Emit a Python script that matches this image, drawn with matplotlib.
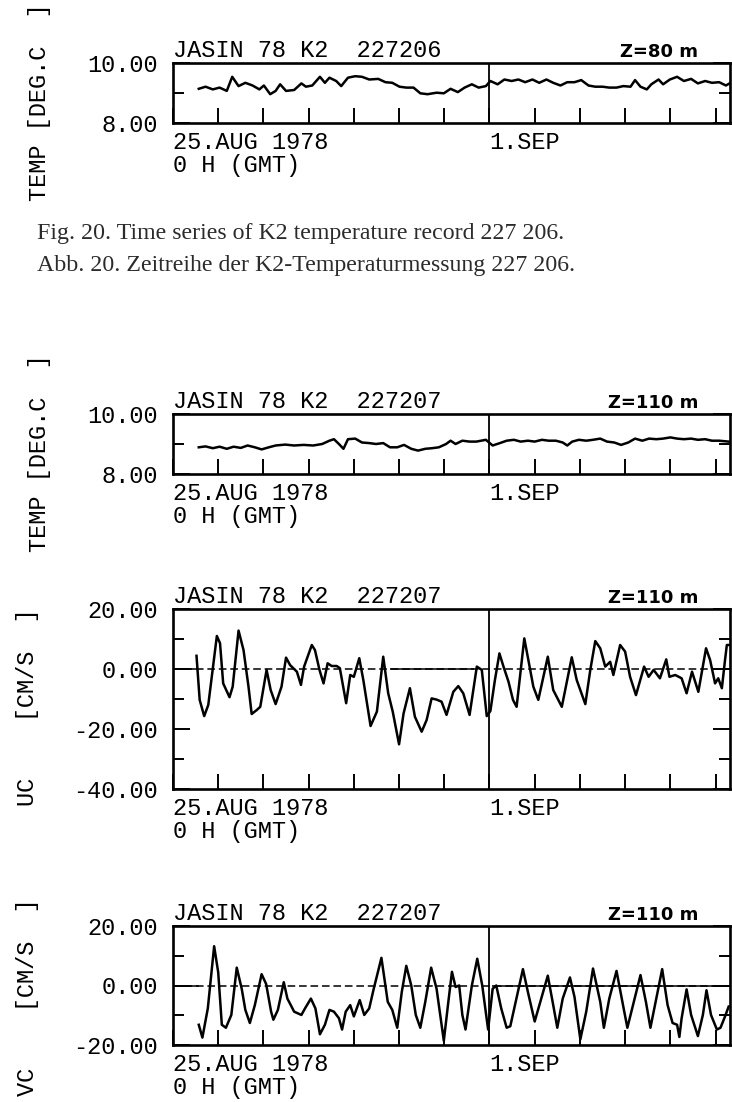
import matplotlib.pyplot as plt

# time axis: days after 25.AUG 1978, 0 H (GMT)
temp206_days = [0.57, 0.72, 0.88, 1.03, 1.19, 1.31, 1.45, 1.60, 1.76, 1.91,
                2.01, 2.15, 2.27, 2.37, 2.50, 2.68, 2.84, 2.94, 3.08, 3.25,
                3.36, 3.46, 3.61, 3.72, 3.87, 4.03, 4.18, 4.34, 4.54, 4.70,
                4.85, 5.01, 5.16, 5.32, 5.47, 5.63, 5.83, 5.99, 6.14, 6.30,
                6.45, 6.61, 6.76, 6.92, 7.02, 7.18, 7.33, 7.49, 7.64, 7.79,
                7.95, 8.10, 8.26, 8.41, 8.57, 8.72, 8.88, 9.03, 9.19, 9.34,
                9.50, 9.65, 9.81, 9.96, 10.12, 10.22, 10.34, 10.48, 10.58, 10.74,
                10.84, 10.99, 11.15, 11.30, 11.46, 11.61, 11.77, 11.92, 12.08, 12.23,
                12.31]
temp206 = [9.14, 9.21, 9.12, 9.18, 9.07, 9.54, 9.23, 9.34, 9.25, 9.12,
           9.25, 8.96, 9.07, 9.29, 9.07, 9.10, 9.32, 9.21, 9.25, 9.54,
           9.34, 9.51, 9.40, 9.23, 9.51, 9.56, 9.54, 9.45, 9.47, 9.36,
           9.34, 9.21, 9.18, 9.18, 8.99, 8.96, 9.01, 8.99, 9.14, 9.03,
           9.18, 9.29, 9.18, 9.23, 9.40, 9.29, 9.45, 9.40, 9.45, 9.36,
           9.45, 9.34, 9.45, 9.34, 9.25, 9.36, 9.36, 9.43, 9.25, 9.21,
           9.21, 9.18, 9.18, 9.23, 9.21, 9.43, 9.21, 9.12, 9.29, 9.45,
           9.29, 9.45, 9.54, 9.40, 9.47, 9.32, 9.40, 9.34, 9.36, 9.25,
           9.32]

temp207_days = [0.57, 0.72, 0.88, 1.03, 1.19, 1.34, 1.50, 1.65, 1.81, 1.96,
                2.12, 2.27, 2.48, 2.68, 2.89, 3.10, 3.30, 3.46, 3.56, 3.67,
                3.77, 3.87, 4.03, 4.18, 4.34, 4.49, 4.65, 4.80, 4.96, 5.11,
                5.27, 5.42, 5.58, 5.73, 5.88, 6.04, 6.14, 6.25, 6.40, 6.56,
                6.71, 6.92, 7.07, 7.23, 7.38, 7.54, 7.69, 7.85, 8.00, 8.16,
                8.31, 8.47, 8.62, 8.72, 8.83, 8.98, 9.14, 9.29, 9.45, 9.60,
                9.76, 9.91, 10.07, 10.22, 10.38, 10.53, 10.69, 10.84, 11.00, 11.15,
                11.30, 11.46, 11.61, 11.77, 11.92, 12.08, 12.29]
temp207 = [8.89, 8.92, 8.86, 8.91, 8.84, 8.91, 8.87, 8.95, 8.89, 8.82,
           8.89, 8.95, 8.98, 8.95, 8.97, 8.95, 9.00, 9.11, 9.16, 9.00,
           8.84, 9.16, 9.18, 9.05, 9.03, 9.00, 9.03, 8.89, 8.89, 8.97,
           8.84, 8.78, 8.84, 8.86, 8.89, 9.00, 9.11, 9.00, 9.11, 9.08,
           9.08, 9.14, 8.95, 9.03, 9.11, 9.14, 9.08, 9.11, 9.08, 9.14,
           9.11, 9.11, 9.05, 8.95, 9.08, 9.14, 9.11, 9.14, 9.18, 9.08,
           9.05, 8.97, 9.05, 9.18, 9.11, 9.18, 9.16, 9.18, 9.22, 9.18,
           9.16, 9.18, 9.14, 9.16, 9.11, 9.11, 9.08]

uc_days = [0.52, 0.59, 0.69, 0.78, 0.97, 1.04, 1.11, 1.25, 1.32, 1.45,
           1.56, 1.67, 1.74, 1.85, 1.93, 2.07, 2.16, 2.27, 2.40, 2.50,
           2.59, 2.74, 2.83, 2.90, 3.07, 3.14, 3.24, 3.33, 3.42, 3.51,
           3.62, 3.69, 3.83, 3.92, 4.00, 4.12, 4.21, 4.37, 4.51, 4.65,
           4.76, 4.86, 5.00, 5.10, 5.24, 5.35, 5.50, 5.61, 5.72, 5.83,
           5.94, 6.05, 6.20, 6.31, 6.42, 6.56, 6.72, 6.83, 6.94, 7.02,
           7.12, 7.22, 7.31, 7.42, 7.52, 7.60, 7.77, 7.86, 7.97, 8.08,
           8.29, 8.41, 8.60, 8.82, 8.93, 9.12, 9.23, 9.34, 9.45, 9.56,
           9.67, 9.74, 9.89, 10.00, 10.11, 10.24, 10.42, 10.52, 10.63, 10.77,
           10.91, 10.98, 11.11, 11.25, 11.36, 11.48, 11.62, 11.79, 11.88, 11.99,
           12.06, 12.14, 12.21, 12.25, 12.31]
uc = [4.4, -10.3, -15.7, -12.0, 11.0, 8.6, -4.8, -9.4, -5.9, 12.8,
      6.3, -5.9, -15.0, -13.7, -12.6, -0.3, -7.0, -11.7, -5.9, 3.8,
      1.3, -0.9, -5.3, 0.8, 8.0, 6.3, -0.3, -4.8, 1.9, 1.0,
      1.0, 0.3, -11.4, -2.0, -2.6, 3.6, -3.7, -19.0, -14.2, 4.1,
      -8.1, -14.2, -25.1, -14.8, -6.4, -15.9, -20.9, -17.0, -9.8, -10.2,
      -10.9, -15.3, -7.6, -5.7, -8.1, -15.3, 0.8, -0.3, -15.7, -14.0,
      -3.7, 5.2, 0.8, -4.2, -10.3, -12.6, 10.2, 3.0, -5.9, -10.3,
      4.1, -7.0, -12.6, 3.9, -3.7, -11.7, -0.3, 9.3, 6.9, 0.8,
      2.4, -2.0, 8.0, 5.8, -2.6, -8.7, 0.8, -2.6, -0.3, -3.1,
      3.2, -2.6, -2.0, -3.1, -8.1, -0.9, -7.6, 6.9, 3.0, -4.8,
      -3.1, -6.4, 3.0, 8.0, 8.0]

vc_days = [0.57, 0.65, 0.77, 0.91, 1.00, 1.08, 1.17, 1.29, 1.41, 1.52,
           1.60, 1.70, 1.81, 1.96, 2.06, 2.17, 2.22, 2.32, 2.45, 2.53,
           2.68, 2.84, 2.92, 3.05, 3.15, 3.25, 3.36, 3.46, 3.56, 3.67,
           3.74, 3.82, 3.92, 4.00, 4.13, 4.23, 4.34, 4.44, 4.61, 4.75,
           4.85, 4.96, 5.06, 5.16, 5.27, 5.37, 5.47, 5.58, 5.71, 5.83,
           5.99, 6.09, 6.17, 6.25, 6.33, 6.40, 6.47, 6.61, 6.73, 6.84,
           6.97, 7.07, 7.15, 7.26, 7.38, 7.46, 7.74, 7.85, 8.00, 8.29,
           8.41, 8.50, 8.62, 8.78, 8.88, 9.01, 9.14, 9.29, 9.45, 9.53,
           9.65, 9.81, 9.94, 10.05, 10.34, 10.46, 10.56, 10.82, 10.94, 11.05,
           11.15, 11.20, 11.25, 11.36, 11.46, 11.61, 11.72, 11.80, 11.90, 12.03,
           12.11, 12.21, 12.29]
vc = [-13.2, -17.5, -7.7, 13.2, 4.4, -13.2, -14.2, -9.9, 6.0, -1.1,
      -8.2, -12.6, -6.6, 3.8, 0.5, -8.8, -11.5, -8.2, 1.1, -4.4,
      -8.8, -9.9, -7.7, -4.4, -7.7, -16.4, -13.2, -8.2, -8.8, -11.0,
      -14.8, -8.8, -6.6, -10.4, -4.9, -9.9, -7.7, -1.1, 9.3, -5.5,
      -8.2, -14.2, -2.2, 6.6, 0.0, -9.9, -14.2, -5.5, 6.0, -1.1,
      -18.6, -5.5, 4.6, -0.5, 0.0, -9.9, -14.8, 0.0, 9.0, 0.0,
      -14.8, -1.1, 0.0, -7.7, -14.2, -13.7, 5.5, -2.2, -12.1, 3.3,
      -6.6, -14.2, -4.4, 2.7, -3.8, -18.1, -8.8, 5.7, -5.5, -14.2,
      -4.4, 4.9, -5.5, -14.2, 3.5, -5.5, -14.2, 5.5, -6.6, -12.6,
      -13.2, -17.3, -11.0, -1.3, -9.9, -17.0, -9.9, -1.6, -9.9, -14.8,
      -14.2, -10.4, -7.1]

day_ticks = list(range(13))
day_labels = ["25.AUG 1978\n0 H (GMT)", "", "", "", "", "", "",
              "1.SEP", "", "", "", "", ""]
day_end = 12.32

captions = ["Fig. 20. Time series of K2 temperature record 227 206.",
            "Abb. 20. Zeitreihe der K2-Temperaturmessung 227 206."]

W, H, DPI = 732, 1102, 100
MONO = ["Liberation Mono", "DejaVu Sans Mono"]
FS = 17

fig = plt.figure(figsize=(W / DPI, H / DPI), dpi=DPI)


def panel(top, bottom, days, values, ylim, major, minor, record, depth,
          ylabel, label_x, label_y, solid_zero=None):
    # box edges are given in pixels of the page
    ax = fig.add_axes([173 / W, 1 - bottom / H, 557 / W, (bottom - top) / H])
    ax.set_xlim(0, day_end)
    ax.set_ylim(*ylim)
    if solid_zero is not None:
        ax.axhline(0, color="black", lw=1.1, dashes=(5, 2.5), zorder=1)
        for a, b in solid_zero:
            ax.hlines(0, a, b, color="black", lw=1.1, zorder=1)
    ax.axvline(7, color="black", lw=1.3, zorder=2)
    ax.plot(days, values, color="black", lw=1.8, zorder=3)

    ax.set_xticks(day_ticks, day_labels)
    ax.set_yticks(major, [f"{v:.2f}" for v in major])
    ax.set_yticks(minor, minor=True)
    for s in ax.spines.values():
        s.set_linewidth(1.9)
    ax.tick_params(axis="x", direction="in", length=11, width=1.4, pad=5.5, top=False)
    ax.tick_params(axis="y", which="both", direction="in", width=1.4,
                   left=True, right=True, pad=11)
    ax.tick_params(axis="y", which="major", length=12)
    ax.tick_params(axis="y", which="minor", length=8)
    for lab in ax.get_xticklabels():
        lab.set(ha="left", family=MONO, size=FS, linespacing=1.04)
    for lab in ax.get_yticklabels():
        lab.set(family=MONO, size=FS)

    ax.annotate(f"JASIN 78 K2  {record}", (0, 1), xycoords="axes fraction",
                xytext=(0, 4.5), textcoords="offset points", va="baseline",
                family=MONO, size=FS)
    ax.annotate(depth, (1, 1), xycoords="axes fraction", xytext=(-23, 4.5),
                textcoords="offset points", ha="right", va="baseline",
                family="DejaVu Sans", weight="bold", size=13)
    fig.text(label_x / W, 1 - label_y / H, ylabel, rotation=90, ha="center",
             va="center", family=MONO, size=FS)
    return ax


panel(63, 123, temp206_days, temp206, (8, 10), [8, 10], [9],
      "227206", "Z=80 m", "TEMP [DEG.C  ]", 40, 102)

for i, line in enumerate(captions):
    fig.text(37 / W, 1 - (239 + 32 * i) / H, line, family=["Liberation Serif"],
             size=17.2, color="#2b2b2b", va="baseline")

panel(414, 474, temp207_days, temp207, (8, 10), [8, 10], [9],
      "227207", "Z=110 m", "TEMP [DEG.C  ]", 40, 453)
panel(609, 789, uc_days, uc, (-40, 20), [-40, -20, 0, 20], [-30, -10, 10],
      "227207", "Z=110 m", "UC    [CM/S  ]", 28, 707,
      solid_zero=[(0, 0.52), (4.8, 6.65)])
panel(926, 1045, vc_days, vc, (-20, 20), [-20, 0, 20], [-10, 10],
      "227207", "Z=110 m", "VC    [CM/S  ]", 28, 997,
      solid_zero=[(0, 0.57), (7.05, day_end)])

fig.savefig("out.png", dpi=DPI)
